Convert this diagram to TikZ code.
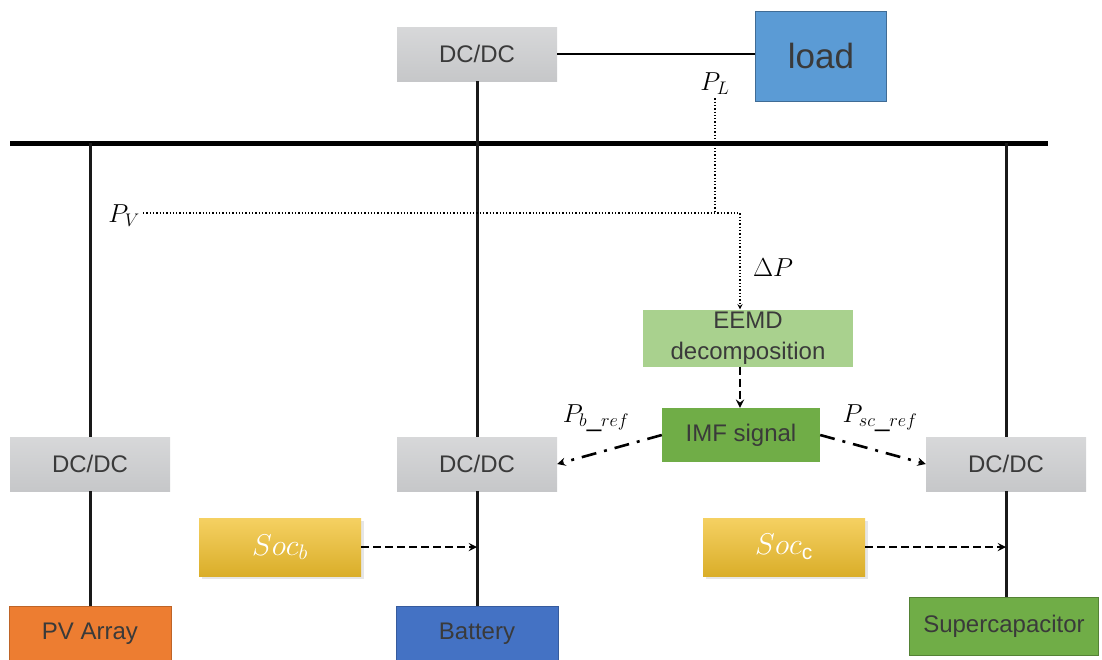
\RequirePackage{fix-cm}
\documentclass[tikz,border=0pt]{standalone}
\usepackage{fontspec}
\setmainfont{Liberation Sans}
\usetikzlibrary{shapes.geometric, arrows, calc, positioning, shadows}
\definecolor{dcgray}{HTML}{C6C7C9}
\definecolor{txtgray}{HTML}{3A3A3A}
\definecolor{loadblue}{HTML}{5B9BD5}
\definecolor{batblue}{HTML}{4472C4}
\definecolor{pvorange}{HTML}{ED7D31}
\definecolor{lgreen}{HTML}{A9D18E}
\definecolor{dgreen}{HTML}{70AD47}
\definecolor{socgold}{HTML}{F2C12E}
\tikzstyle{conv} = [rectangle, minimum width=160pt, minimum height=54pt, text centered, top color=dcgray!70!white, bottom color=dcgray, text=txtgray, font=\fontsize{24}{28}\selectfont]
\tikzstyle{source} = [rectangle, minimum width=162pt, minimum height=56pt, text centered, draw=black!40, text=txtgray, font=\fontsize{24}{28}\selectfont]
\tikzstyle{control} = [rectangle, minimum width=158pt, minimum height=54pt, text centered, text=txtgray, font=\fontsize{24}{28}\selectfont]
\tikzstyle{soc} = [rectangle, minimum width=162pt, minimum height=58pt, text centered, top color=socgold!75!white, bottom color=socgold!90!black, text=white, font=\fontsize{30}{34}\selectfont, drop shadow={opacity=.2}]
\tikzstyle{mlabel} = [font=\fontsize{26}{30}\selectfont]
\tikzstyle{wire} = [line width=3pt, black!90]
\tikzstyle{meas} = [line width=1.3pt, dotted]
\tikzstyle{sig} = [line width=2.6pt, dash pattern=on 8pt off 4pt, ->, >=stealth]
\tikzstyle{ref} = [line width=2.6pt, dash pattern=on 15pt off 8pt on 3pt off 8pt, ->, >=stealth]

\begin{document}
\begin{tikzpicture}[x=1pt, y=-1pt]
\useasboundingbox (0,0) rectangle (1102,659);
\clip (0,0) rectangle (1102,659);

% dc bus
\coordinate (busL) at (10,143);
\coordinate (busR) at (1048,143);
\draw [line width=5pt] (busL) -- (busR);

% load side
\node (topdc) [conv] at (477,54) {DC/DC};
\node (load) [source, fill=loadblue, draw=loadblue!70!black, minimum width=131pt, minimum height=90pt, font=\fontsize{35}{40}\selectfont] at (821,56) {load};
\draw [line width=1.8pt] (topdc.east) -- (topdc.east -| load.west);

% converters on the bus
\node (pvdc) [conv] at (90,464) {DC/DC};
\node (batdc) [conv] at (477,464) {DC/DC};
\node (scdc) [conv] at (1006,464) {DC/DC};
\draw [wire] (topdc) -- (batdc);
\draw [wire] (pvdc) -- (pvdc |- busL);
\draw [wire] (scdc) -- (scdc |- busL);

% sources and storage
\node (pv) [source, fill=pvorange, draw=pvorange!80!black] at (90,634) {PV Array};
\node (bat) [source, fill=batblue, draw=batblue!80!black] at (477,634) {Battery};
\node (sc) [source, fill=dgreen, draw=dgreen!75!black, minimum width=189pt, minimum height=58pt] at (1004,626) {Supercapacitor};
\draw [wire] (pvdc) -- (pv);
\draw [wire] (batdc) -- (bat);
\draw [wire] (scdc.south) -- (sc.north -| scdc.south);

% power measurement
\node (pl) [mlabel] at (715,84) {$P_L$};
\node (pvl) [mlabel] at (124,216) {$P_V$};
\coordinate (corner) at (740,213);
\node (eemd) [control, fill=lgreen, minimum width=210pt, minimum height=57pt, text width=205pt, inner sep=1pt, font=\fontsize{24}{31}\selectfont] at (748,338) {EEMD\\decomposition};
\draw [meas] (pl.south) -- (pl.south |- corner);
\draw [meas, ->, >=stealth] (pvl.east |- corner) -- (corner) -- (eemd.north -| corner);
\node (dp) [mlabel] at (773,268) {$\Delta P$};

% control signals
\node (imf) [control, fill=dgreen] at (741,435) {IMF signal};
\draw [sig] (eemd.south -| corner) -- (imf.north -| corner);
\draw [ref] (imf.west) -- (batdc.east);
\draw [ref] (imf.east) -- (scdc.west);
\node (pbref) [mlabel] at (596,418) {$P_{b\_ref}$};
\node (pscref) [mlabel] at (880,418) {$P_{sc\_ref}$};

\node (socb) [soc] at (280,547) {$Soc_b$};
\node (socc) [soc] at (784,547) {$Soc_\mathrm{c}$};
\draw [sig] (socb) -- (socb -| batdc);
\draw [sig] (socc) -- (socc -| scdc);

\end{tikzpicture}
\end{document}
